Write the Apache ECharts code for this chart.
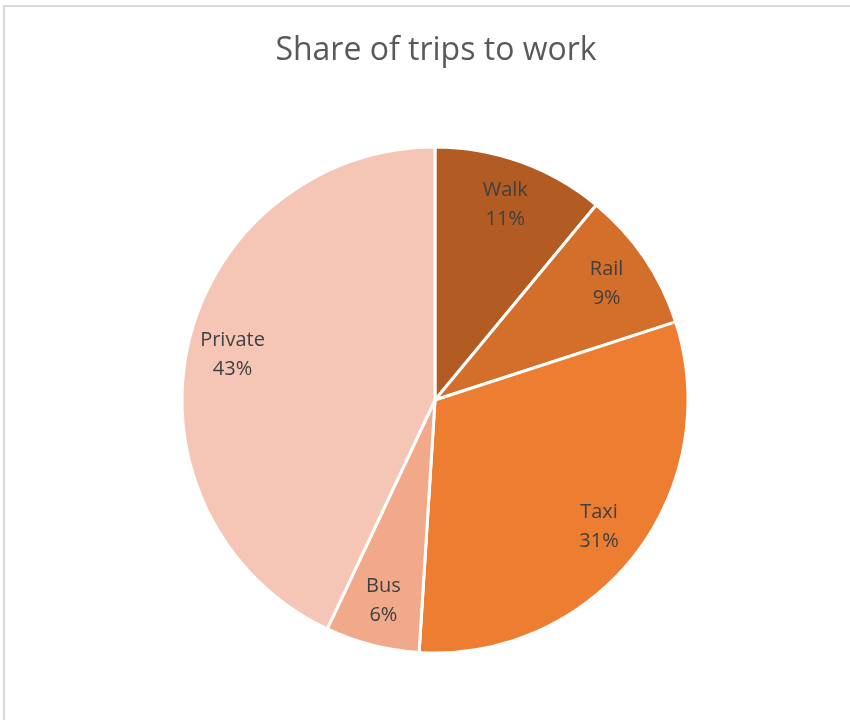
<!DOCTYPE html>
<html>
<head>
<meta charset="utf-8">
<script src="https://cdn.jsdelivr.net/npm/echarts@6/dist/echarts.min.js"></script>
<style>html,body{margin:0;padding:0;background:#fff;}#chart{width:850px;height:720px;}</style>
</head>
<body>
<div id="chart"></div>
<script>
const categories = ['Walk', 'Rail', 'Taxi', 'Bus', 'Private'];
const values = [11, 9, 31, 6, 43];
const colors = ['#B25B22', '#D36F2B', '#ED7D31', '#F1A98A', '#F5C6B6'];

const chart = echarts.init(document.getElementById('chart'));
const data = categories.map((c, i) => ({ name: c, value: values[i], itemStyle: { color: colors[i] } }));
const labelData = categories.map((c, i) => ({ name: c, value: values[i] }));

chart.setOption({
  animation: false,
  title: {
    text: 'Share of trips to work',
    left: 431, top: 30, textAlign: 'center',
    textStyle: { fontFamily: 'Open Sans', fontSize: 32, fontWeight: 'normal', color: '#595959' }
  },
  graphic: [{
    type: 'rect', silent: true,
    shape: { x: 4, y: 6, width: 900, height: 800 },
    style: { fill: 'none', stroke: '#D9D9D9', lineWidth: 2 }
  }],
  series: [{
    type: 'pie',
    center: [435, 400],
    radius: [0, 253],
    startAngle: 90,
    clockwise: true,
    data: data,
    label: { show: false },
    labelLine: { show: false },
    itemStyle: { borderColor: '#ffffff', borderWidth: 3 },
    emphasis: { disabled: true }
  }, {
    type: 'pie',
    center: [435, 400],
    radius: [156, 253],
    startAngle: 90,
    clockwise: true,
    silent: true,
    data: labelData,
    itemStyle: { color: 'rgba(0,0,0,0)', borderWidth: 0 },
    label: {
      show: true, position: 'inside',
      formatter: p => p.name + '\n' + p.value + '%',
      fontFamily: 'Open Sans', fontSize: 20, lineHeight: 29, color: '#404040'
    },
    labelLine: { show: false },
    emphasis: { disabled: true }
  }]
});
</script>
</body>
</html>
